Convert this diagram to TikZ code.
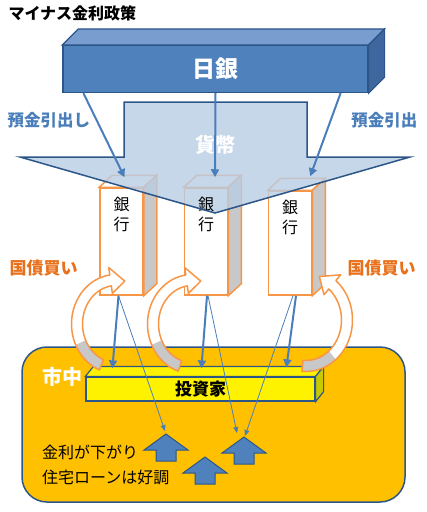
\documentclass[tikz,border=0pt]{standalone}
\usepackage{fontspec}
\setmainfont{Noto Sans CJK JP}
\usetikzlibrary{calc, positioning, arrows.meta}

\definecolor{bojblue}{HTML}{4F81BD}
\definecolor{bojtop}{HTML}{7A9DD0}
\definecolor{bojside}{HTML}{3D679E}
\definecolor{darkblue}{HTML}{2C5687}
\definecolor{moneyfill}{HTML}{B9CDE5}
\definecolor{linkblue}{HTML}{4A7EBB}
\definecolor{bankorange}{HTML}{F79646}
\definecolor{bondorange}{HTML}{E8701A}
\definecolor{sidegray}{HTML}{C8C8C8}
\definecolor{marketgold}{HTML}{FFC000}
\definecolor{investside}{HTML}{C9C900}

\tikzset{
  bojbox/.style={draw=darkblue, fill=bojblue, line width=1.2pt,
    minimum width=305pt, minimum height=47pt, text=white,
    font=\fontsize{23}{26}\selectfont\bfseries},
  bankbox/.style={draw=bankorange, fill=white, line width=1.5pt,
    minimum width=43pt, minimum height=#1},
  banktext/.style={align=center, inner sep=0pt, font=\fontsize{16}{20}\selectfont},
  investbox/.style={draw=darkblue, fill=yellow, line width=1.2pt,
    minimum width=229pt, minimum height=24pt, font=\fontsize{17}{20}\selectfont\bfseries},
  marketbox/.style={draw=darkblue, fill=marketgold, line width=1.5pt,
    rounded corners=25pt, minimum width=383pt, minimum height=155pt},
  withdraw/.style={text=linkblue, font=\fontsize{16.5}{20}\selectfont\bfseries},
  bondbuy/.style={text=bondorange, font=\fontsize{17}{20}\selectfont\bfseries},
  money/.style={linkblue, line width=2pt, -{Triangle[length=8pt, width=8pt]}},
  thinmoney/.style={linkblue, line width=0.8pt, -{Triangle[length=6pt, width=5pt]}},
  upblock/.pic={
    \draw[darkblue, fill=bojblue, line width=1pt]
      (0,0) -- (22,16) -- (10,16) -- (10,27) -- (-10,27) -- (-10,16) -- (-22,16) -- cycle;
    \coordinate (-tip) at (0,0);
  }
}

% top and right faces of a box node: node, dx, dy, top, side, border
\newcommand{\boxsides}[6]{%
  \draw[#6, fill=#4] (#1.north west) -- ++(#2,#3) -- ($(#1.north east)+(#2,#3)$) -- (#1.north east) -- cycle;
  \draw[#6, fill=#5] (#1.north east) -- ++(#2,#3) -- ($(#1.south east)+(#2,#3)$) -- (#1.south east) -- cycle;
}

% curved block arrow: centre, rx, ry, tail angle, head angle, grey up to, turn
\newcommand{\bondarrow}[7]{%
  \pgfmathsetmacro{\tipa}{#5+21*#7}%
  \pgfmathsetmacro{\rxo}{#2+5.5}\pgfmathsetmacro{\ryo}{#3+5.5}%
  \pgfmathsetmacro{\rxi}{#2-5.5}\pgfmathsetmacro{\ryi}{#3-5.5}%
  \pgfmathsetmacro{\rxh}{#2+13}\pgfmathsetmacro{\ryh}{#3+13}%
  \pgfmathsetmacro{\rxl}{#2-13}\pgfmathsetmacro{\ryl}{#3-13}%
  \def\bondshape{($(#1)+(#4:\rxo\space and \ryo)$)
    arc[start angle=#4, end angle=#5, x radius=\rxo, y radius=\ryo]
    -- ($(#1)+(#5:\rxh\space and \ryh)$) -- ($(#1)+(\tipa:#2 and #3)$)
    -- ($(#1)+(#5:\rxl\space and \ryl)$) -- ($(#1)+(#5:\rxi\space and \ryi)$)
    arc[start angle=#5, end angle=#4, x radius=\rxi, y radius=\ryi] -- cycle}%
  \fill[white] \bondshape;
  \fill[sidegray] ($(#1)+(#4:\rxo\space and \ryo)$)
    arc[start angle=#4, end angle=#6, x radius=\rxo, y radius=\ryo]
    -- ($(#1)+(#6:\rxi\space and \ryi)$)
    arc[start angle=#6, end angle=#4, x radius=\rxi, y radius=\ryi] -- cycle;
  \draw[bankorange, line width=1.5pt, line join=round] \bondshape;
}

\begin{document}
\begin{tikzpicture}[x=1pt, y=-1pt]
  \useasboundingbox (0,0) rectangle (427,512);

  \node[anchor=west, font=\fontsize{16}{20}\selectfont\bfseries] (title) at (5,13) {マイナス金利政策};

  % Bank of Japan
  \node[bojbox] (boj) at (215.5,69) {日銀};
  \boxsides{boj}{16}{-16}{bojtop}{bojside}{darkblue, line width=1.2pt}

  % market and investor
  \node[marketbox] (market) at (213.5,424.5) {};
  \node[text=white, font=\fontsize{20}{24}\selectfont\bfseries] (mktlabel) at (62,377) {市中};
  \node[investbox] (inv) at (200.5,389) {投資家};
  \boxsides{inv}{8}{-10}{yellow}{investside}{darkblue, line width=1.2pt}

  % banks
  \node[bankbox=107pt] (b1) at (121.5,241.5) {};
  \node[bankbox=107pt] (b2) at (206,241.5) {};
  \node[bankbox=104pt] (b3) at (290,243) {};
  \foreach \b in {b1,b2,b3}{
    \boxsides{\b}{13}{-12}{white}{sidegray}{bankorange, line width=1.5pt}
  }

  % money arrow
  \fill[moneyfill, fill opacity=0.8]
    (124,102) -- (307,102) -- (307,157) -- (410,157) -- (215,213)
    -- (20,157) -- (124,157) -- cycle;
  \foreach \b in {b1,b2,b3}{
    \node[banktext, below=10pt of \b.north] (\b t) {銀\\行};
  }
  \draw[darkblue, line width=1.5pt, line join=miter]
    (124,102) -- (307,102) -- (307,157) -- (410,157) -- (215,213) coordinate (moneytip)
    -- (20,157) -- (124,157) -- cycle;
  \node[text=white, font=\fontsize{20}{24}\selectfont\bfseries] (moneylabel) at (215,145) {貨幣};

  \draw[money] ($(boj.south west)+(21,0)$) -- ($(b1.north)+(3,-10)$);
  \draw[money] (boj.south) -- ($(b2.north)+(9,-10)$);
  \draw[money] ($(boj.south east)+(-28,0)$) -- ($(b3.north east)+(-2,-14)$);

  \node[withdraw, anchor=west] (wdl) at (4,120) {預金引出し};
  \node[withdraw, anchor=east] (wdr) at (421,120) {預金引出};
  \node[bondbuy, anchor=west] (bbl) at (6,268) {国債買い};
  \node[bondbuy, anchor=west] (bbr) at (344,268) {国債買い};

  % bond buying loops
  \bondarrow{116,324}{39}{44}{112}{262}{155}{1}
  \bondarrow{192,324}{39}{44}{108}{262}{155}{1}
  \bondarrow{306,320}{41}{46}{95}{-50}{50}{-1}

  % up arrows
  \pic (ua) at (166,434) {upblock};
  \pic (ub) at (244,437) {upblock};
  \pic (uc) at (205,457) {upblock};

  % money to the market
  \draw[money] ($(b1.south)+(-3,0)$) -- ($(inv.north west)+(27,-8)$);
  \draw[money] ($(b2.south)+(1,0)$) -- ($(inv.north west)+(116,-8)$);
  \draw[money] ($(b3.south)+(6,0)$) -- ($(inv.north west)+(201,-9)$);
  \draw[thinmoney] ($(b1.south)+(-3,0)$) -- ($(ua-tip)+(-1,-3)$);
  \draw[thinmoney] ($(b2.south)+(2,0)$) -- ($(ub-tip)+(-7,-4)$);
  \draw[thinmoney] ($(b3.south)+(3,0)$) -- ($(ub-tip)+(1,-1)$);

  \node[anchor=north west, align=left, inner sep=0pt, font=\fontsize{16}{25}\selectfont] (effect) at (42,445) {金利が下がり\\住宅ローンは好調};
\end{tikzpicture}
\end{document}
